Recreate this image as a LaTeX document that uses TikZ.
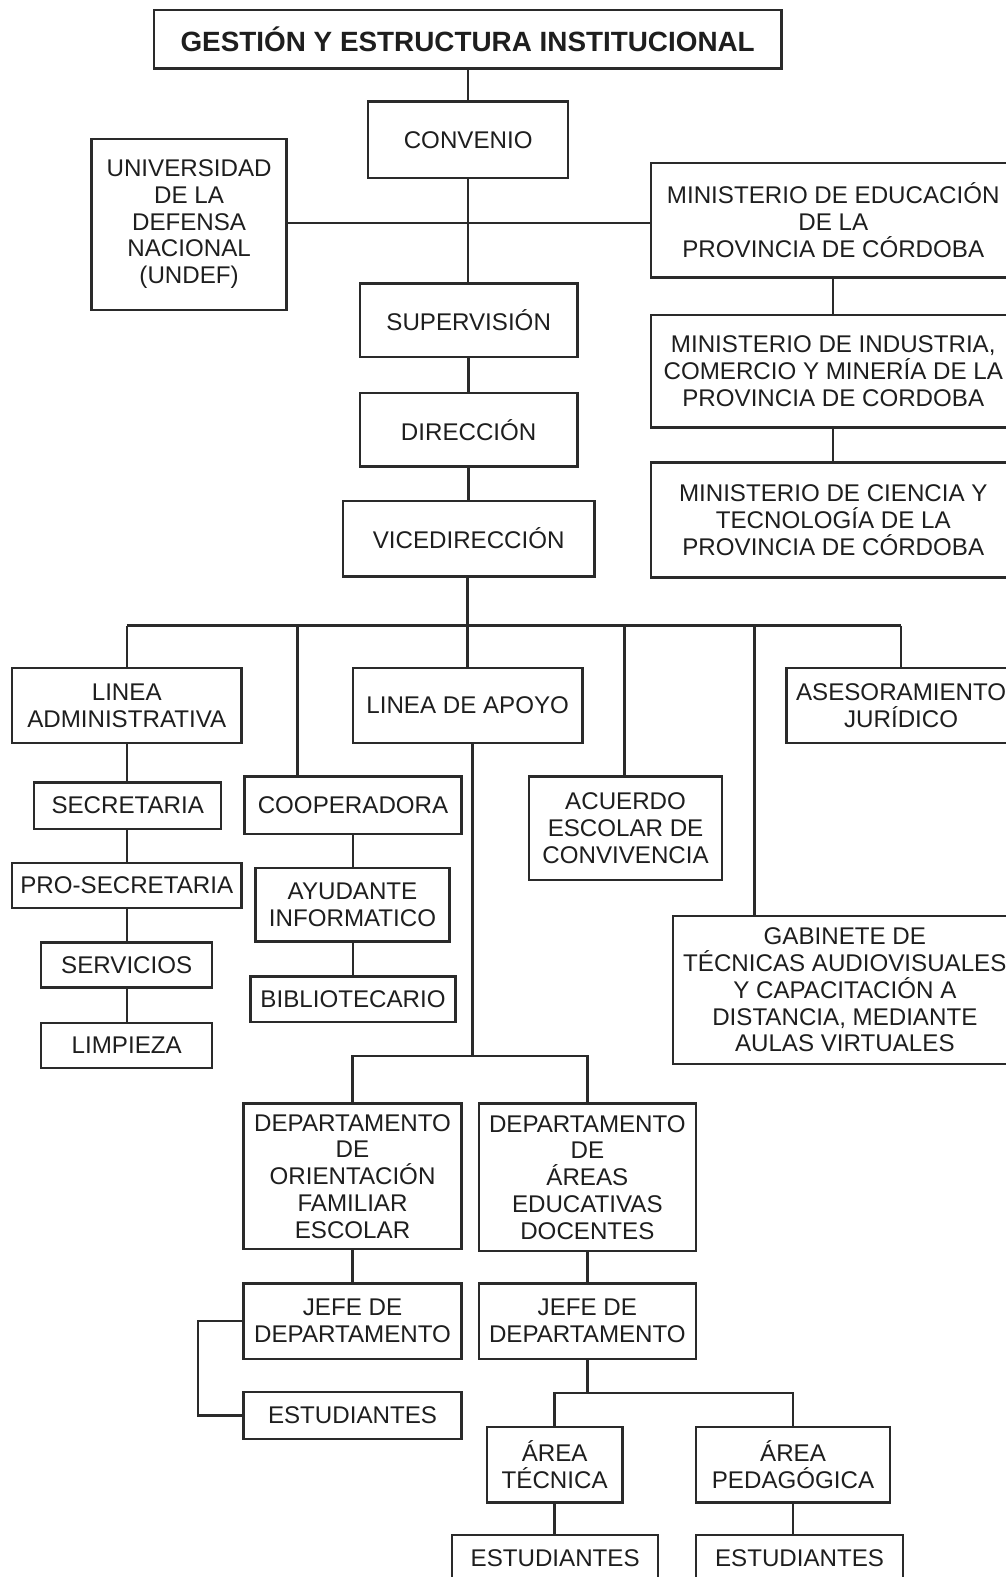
\documentclass[tikz,border=0pt]{standalone}
\usepackage{fontspec}
\setmainfont{Liberation Sans}
\definecolor{lc}{HTML}{2A2A2A}
\definecolor{tc}{HTML}{1E1E1E}
\newcommand\mybox[6]{\node[box,minimum width=#4pt,minimum height=#5pt] (#1) at (#2,#3) {#6};}
\begin{document}
\begin{tikzpicture}[x=1pt,y=-1pt,
  box/.style={draw=lc, line width=2.4pt, inner sep=0pt, align=center, text=tc,
    font=\fontsize{24}{26.6}\selectfont},
  conn/.style={draw=lc, line width=2.4pt}]
\useasboundingbox (0,0) rectangle (1000,1568);
\fill[white] (0,0) rectangle (1000,1568);
% top part
\mybox{title}{465}{39}{624}{58}{\fontsize{27.7}{30}\selectfont\bfseries GESTIÓN Y ESTRUCTURA INSTITUCIONAL}
\mybox{conv}{465.5}{139}{199}{76}{CONVENIO}
\mybox{undef}{188}{223}{194}{170}{UNIVERSIDAD\\DE LA\\DEFENSA\\NACIONAL\\(UNDEF)}
\mybox{medu}{828.5}{219}{363}{114}{MINISTERIO DE EDUCACIÓN\\DE LA\\PROVINCIA DE CÓRDOBA}
\mybox{mind}{828.5}{369}{363}{112}{MINISTERIO DE INDUSTRIA,\\COMERCIO Y MINERÍA DE LA\\PROVINCIA DE CORDOBA}
\mybox{mcien}{828.5}{517}{363}{114}{MINISTERIO DE CIENCIA Y\\TECNOLOGÍA DE LA\\PROVINCIA DE CÓRDOBA}
\mybox{sup}{466}{318.5}{216}{73}{SUPERVISIÓN}
\mybox{dir}{466}{427.5}{216}{73}{DIRECCIÓN}
\mybox{vice}{466}{535.5}{250}{75}{VICEDIRECCIÓN}
% second level
\mybox{linadm}{126}{701.5}{228}{75}{LINEA\\ADMINISTRATIVA}
\mybox{linapo}{465}{701.5}{228}{75}{LINEA DE APOYO}
\mybox{ases}{896}{701.5}{228}{75}{ASESORAMIENTO\\JURÍDICO}
\mybox{secr}{127}{801}{186}{46}{SECRETARIA}
\mybox{prosec}{126}{880.5}{228}{45}{PRO-SECRETARIA}
\mybox{serv}{126}{959.5}{170}{45}{SERVICIOS}
\mybox{limp}{126}{1039.5}{170}{45}{LIMPIEZA}
\mybox{coop}{351}{800.5}{216}{57}{COOPERADORA}
\mybox{ayud}{350.5}{899.5}{193}{73}{AYUDANTE\\INFORMATICO}
\mybox{bibl}{351}{993.5}{204}{45}{BIBLIOTECARIO}
\mybox{acuer}{622}{823.5}{192}{103}{ACUERDO\\ESCOLAR DE\\CONVIVENCIA}
\mybox{gab}{840}{984.5}{342}{147}{GABINETE DE\\TÉCNICAS AUDIOVISUALES\\Y CAPACITACIÓN A\\DISTANCIA, MEDIANTE\\AULAS VIRTUALES}
% departments
\mybox{dori}{350.5}{1169.5}{217}{145}{DEPARTAMENTO\\DE\\ORIENTACIÓN\\FAMILIAR\\ESCOLAR}
\mybox{dare}{584}{1170.5}{216}{147}{DEPARTAMENTO\\DE\\ÁREAS\\EDUCATIVAS\\DOCENTES}
\mybox{jefe1}{350.5}{1313.5}{217}{75}{JEFE DE\\DEPARTAMENTO}
\mybox{jefe2}{584}{1313.5}{216}{75}{JEFE DE\\DEPARTAMENTO}
\mybox{est1}{350.5}{1407.5}{217}{47}{ESTUDIANTES}
\mybox{atec}{551.5}{1456.5}{135}{75}{ÁREA\\TÉCNICA}
\mybox{aped}{788.5}{1456.5}{193}{75}{ÁREA\\PEDAGÓGICA}
\mybox{est2}{552}{1549.5}{205}{47}{ESTUDIANTES}
\mybox{est3}{795}{1549.5}{206}{47}{ESTUDIANTES}
% junction coordinates
\coordinate (hub) at (465,222);
\coordinate (bus) at (465,622);
\coordinate (busL) at (126,622);
\coordinate (busR) at (896,622);
\coordinate (dCoop) at (296,622);
\coordinate (dAcu) at (621,622);
\coordinate (dGab) at (750,622);
\coordinate (apoB) at (470,1050);
\coordinate (apoL) at (350.5,1050);
\coordinate (apoR) at (584,1050);
\coordinate (brk) at (197,1313.5);
\coordinate (jbus) at (584,1385);
\coordinate (jbL) at (551.5,1385);
\coordinate (jbR) at (788.5,1385);
% connectors
\draw[conn] (title.south -| conv.north) -- (conv.north);
\draw[conn] (conv.south) -- (conv.south |- sup.north);
\draw[conn] (undef.east |- hub) -- (medu.west |- hub);
\draw[conn] (medu.south) -- (mind.north);
\draw[conn] (mind.south) -- (mcien.north);
\draw[conn] (sup.south) -- (dir.north);
\draw[conn] (dir.south) -- (vice.north);
\draw[conn] (vice.south -| bus) -- (bus);
\draw[conn] (busL) -- (busR);
\draw[conn] (busL) -- (linadm.north);
\draw[conn] (bus) -- (bus |- linapo.north);
\draw[conn] (busR) -- (ases.north);
\draw[conn] (dCoop) -- (dCoop |- coop.north);
\draw[conn] (dAcu) -- (dAcu |- acuer.north);
\draw[conn] (dGab) -- (dGab |- gab.north);
\draw[conn] (linadm.south) -- (secr.north -| linadm.south);
\draw[conn] (secr.south -| linadm.south) -- (prosec.north);
\draw[conn] (prosec.south) -- (serv.north);
\draw[conn] (serv.south) -- (limp.north);
\draw[conn] (coop.south) -- (coop.south |- ayud.north);
\draw[conn] (ayud.south -| coop.south) -- (bibl.north);
\draw[conn] (apoB |- linapo.south) -- (apoB);
\draw[conn] (apoL |- dori.north) -- (apoL) -- (apoR) -- (dare.north);
\draw[conn] (dori.south) -- (jefe1.north);
\draw[conn] (dare.south) -- (jefe2.north);
\draw[conn] (jefe1.west) -- (brk) -- (brk |- est1.west) -- (est1.west);
\draw[conn] (jefe2.south) -- (jbus);
\draw[conn] (atec.north) -- (jbL) -- (jbR) -- (aped.north);
\draw[conn] (atec.south) -- (atec.south |- est2.north);
\draw[conn] (aped.south) -- (aped.south |- est3.north);
\end{tikzpicture}
\end{document}
